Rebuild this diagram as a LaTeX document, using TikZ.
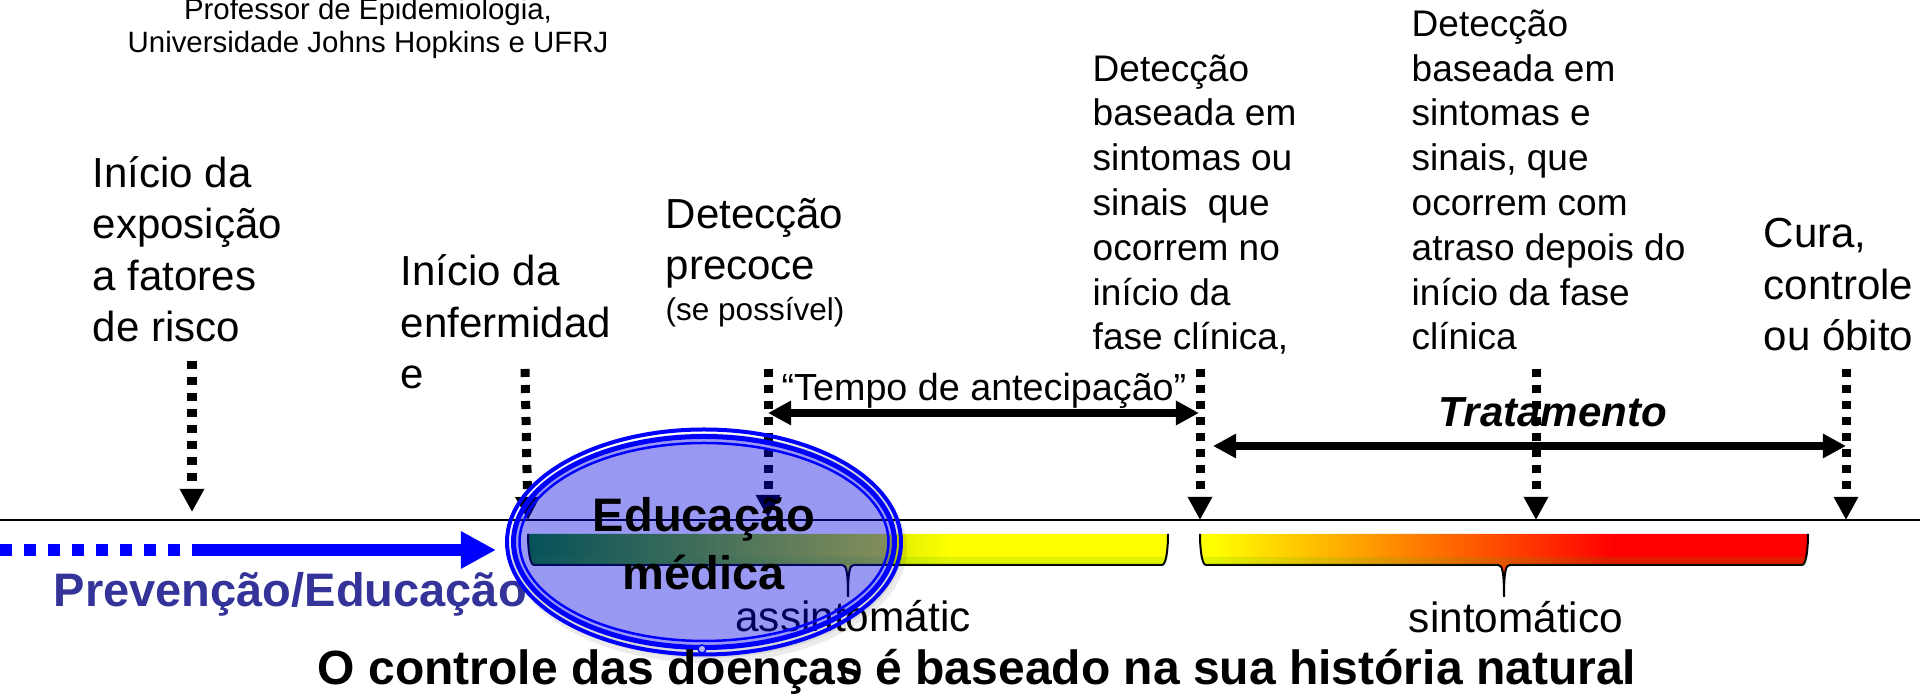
\documentclass[tikz,border=0pt]{standalone}
\usepackage{fontspec}
\setmainfont{Liberation Sans}
\usetikzlibrary{arrows.meta}
\definecolor{prevblue}{RGB}{0,0,255}
\definecolor{prevtext}{RGB}{51,51,153}
\definecolor{ringfill}{RGB}{0,0,225}
\definecolor{bandtint}{RGB}{60,180,0}
\definecolor{barstart}{RGB}{10,136,0}
\pgfdeclarehorizontalshading{greenbar}{100bp}{color(0bp)=(barstart); color(25bp)=(barstart); color(58bp)=(yellow); color(100bp)=(yellow)}
\pgfdeclarehorizontalshading{redbar}{100bp}{color(0bp)=(yellow); color(26bp)=(yellow); color(59bp)=(red); color(100bp)=(red)}
\tikzset{
	label big/.style={font=\fontsize{0.42cm}{0.515cm}\selectfont, align=left, anchor=base west},
	label small/.style={font=\fontsize{0.37cm}{0.448cm}\selectfont, align=left, anchor=base west},
	marker/.style={line width=0.09cm, dash pattern=on 0.08cm off 0.08cm, -{Triangle[length=0.23cm,width=0.23cm]}},
	span/.style={line width=0.08cm, {Triangle[length=0.23cm,width=0.23cm]}-{Triangle[length=0.23cm,width=0.23cm]}},
	bar edge/.style={draw=black, line width=0.02cm},
}
\begin{document}
\begin{tikzpicture}[x=0.01cm,y=0.01cm]
	\tikzstyle{every node}+=[inner sep=0pt]
	\useasboundingbox (0,0) rectangle (1920,-698);
	% texts above the line
	\node (source) at (368,-53) [font=\fontsize{0.294cm}{0.33cm}\selectfont, align=center, anchor=base] {Professor de Epidemiologia,\\Universidade Johns Hopkins e UFRJ};
	\node (exposure) at (92,-342) [label big] {Início da\\exposição\\a fatores\\de risco};
	\node (onset) at (400,-389) [label big] {Início da\\enfermidad\\e};
	\node (early) at (665,-280) [label big] {Detecção\\precoce};
	\node (earlynote) at (665,-321) [font=\fontsize{0.315cm}{0.36cm}\selectfont, anchor=base west] {(se possível)};
	\node (clinical) at (1092,-350) [label small] {Detecção\\baseada em\\sintomas ou\\sinais~ que\\ocorrem no\\início da\\fase clínica,};
	\node (delayed) at (1411,-350) [label small] {Detecção\\baseada em\\sintomas e\\sinais, que\\ocorrem com\\atraso depois do\\início da fase\\clínica};
	\node (outcome) at (1763,-351) [label big] {Cura,\\controle\\ou óbito};
	\node (leadtime) at (984,-401) [font=\fontsize{0.377cm}{0.44cm}\selectfont, anchor=base] {“Tempo de antecipação”};
	\node (treatment) at (1553,-427) [font=\fontsize{0.42cm}{0.5cm}\selectfont\bfseries\itshape, anchor=base] {Tratamento};
	% time line
	\coordinate (lineleft) at (0,-520.5);
	\coordinate (lineright) at (1920,-520.5);
	\draw [black, line width=0.02cm] (lineleft) -- (lineright);
	% markers down to the line
	\coordinate (exposuretop) at (192,-361);
	\coordinate (exposuretip) at (192,-512);
	\coordinate (onsettop) at (525,-369);
	\coordinate (onsettip) at (528,-520);
	\coordinate (earlytop) at (768,-369);
	\coordinate (earlytip) at (768,-518);
	\coordinate (clinicaltop) at (1200,-369);
	\coordinate (clinicaltip) at (1200,-520);
	\coordinate (delayedtop) at (1536,-369);
	\coordinate (delayedtip) at (1536,-520);
	\coordinate (outcometop) at (1846,-369);
	\coordinate (outcometip) at (1846,-520);
	\draw [marker] (exposuretop) -- (exposuretip);
	\draw [marker] (onsettop) -- (onsettip);
	\draw [marker] (earlytop) -- (earlytip);
	\draw [marker] (clinicaltop) -- (clinicaltip);
	\draw [marker] (delayedtop) -- (delayedtip);
	\draw [marker] (outcometop) -- (outcometip);
	% spans
	\coordinate (leadleft) at (768,-413);
	\coordinate (leadright) at (1199,-413);
	\coordinate (treatleft) at (1213,-446);
	\coordinate (treatright) at (1846,-446);
	\draw [span] (leadleft) -- (leadright);
	\draw [span] (treatleft) -- (treatright);
	% prevention arrow
	\coordinate (prevstart) at (0,-550);
	\coordinate (prevmid) at (192,-550);
	\coordinate (prevtip) at (496,-550);
	\draw [prevblue, line width=0.12cm, dash pattern=on 0.12cm off 0.12cm] (prevstart) -- (prevmid);
	\draw [prevblue, line width=0.12cm, -{Triangle[length=0.35cm,width=0.35cm]}] (prevmid) -- (prevtip);
	\node (prevention) at (53,-607) [font=\fontsize{0.47cm}{0.52cm}\selectfont\bfseries, text=prevtext, anchor=base west] {Prevenção/Educação};
	% phase bars
	\path [shade, shading=greenbar, bar edge] (528,-534) .. controls (528,-550) and (530,-565) .. (534,-565) -- (842,-565) .. controls (846,-565) and (848,-570) .. (848,-597) .. controls (848,-570) and (850,-565) .. (854,-565) -- (1162,-565) .. controls (1166,-565) and (1168,-550) .. (1168,-534);
	\path [shade, shading=redbar, bar edge] (1200,-534) .. controls (1200,-550) and (1202,-565) .. (1206,-565) -- (1498,-565) .. controls (1502,-565) and (1504,-570) .. (1504,-597) .. controls (1504,-570) and (1506,-565) .. (1510,-565) -- (1802,-565) .. controls (1806,-565) and (1808,-550) .. (1808,-534);
	\fill [bandtint, opacity=0.15] (530,-557) -- (1167,-557) .. controls (1166,-562) and (1165,-565) .. (1162,-565) -- (534,-565) .. controls (532,-565) and (531,-562) .. (530,-557);
	\fill [bandtint, opacity=0.15] (1202,-557) -- (1807,-557) .. controls (1806,-562) and (1805,-565) .. (1802,-565) -- (1206,-565) .. controls (1204,-565) and (1203,-562) .. (1202,-557);
	\node (silent) at (853,-632) [font=\fontsize{0.423cm}{0.51cm}\selectfont, align=center, anchor=base] {assintomátic};
	\node (silentend) at (851,-683) [font=\fontsize{0.423cm}{0.51cm}\selectfont, anchor=base] {o};
	\node (symptomatic) at (1516,-633) [font=\fontsize{0.423cm}{0.51cm}\selectfont, anchor=base] {sintomático};
	% education ellipse
	\coordinate (educ) at (704,-542);
	\fill [black, opacity=0.08, even odd rule] (708,-548) ellipse (199 and 115) (educ) ellipse (190.5 and 105.5);
	\fill [black, opacity=0.08, even odd rule] (707,-546) ellipse (196 and 112) (educ) ellipse (190.5 and 105.5);
	\fill [ringfill, opacity=0.4] (educ) ellipse (190.5 and 105.5);
	\draw [prevblue, line width=0.04cm] (educ) ellipse (197 and 112.5);
	\draw [prevblue, line width=0.05cm] (educ) ellipse (190.5 and 105.5);
	\draw [prevblue, line width=0.025cm] (educ) ellipse (184.5 and 99);
	\draw [prevblue, line width=0.015cm, fill=white!70!ringfill] (702,-649) circle (4);
	\node (educa) at (704,-532) [font=\fontsize{0.47cm}{0.58cm}\selectfont\bfseries, anchor=base] {Educação};
	\node (medica) at (704,-590) [font=\fontsize{0.47cm}{0.58cm}\selectfont\bfseries, anchor=base] {médica};
	% bottom line
	\node (title) at (977,-685) [font=\fontsize{0.48cm}{0.52cm}\selectfont\bfseries, anchor=base] {O controle das doenças é baseado na sua história natural};
\end{tikzpicture}
\end{document}
